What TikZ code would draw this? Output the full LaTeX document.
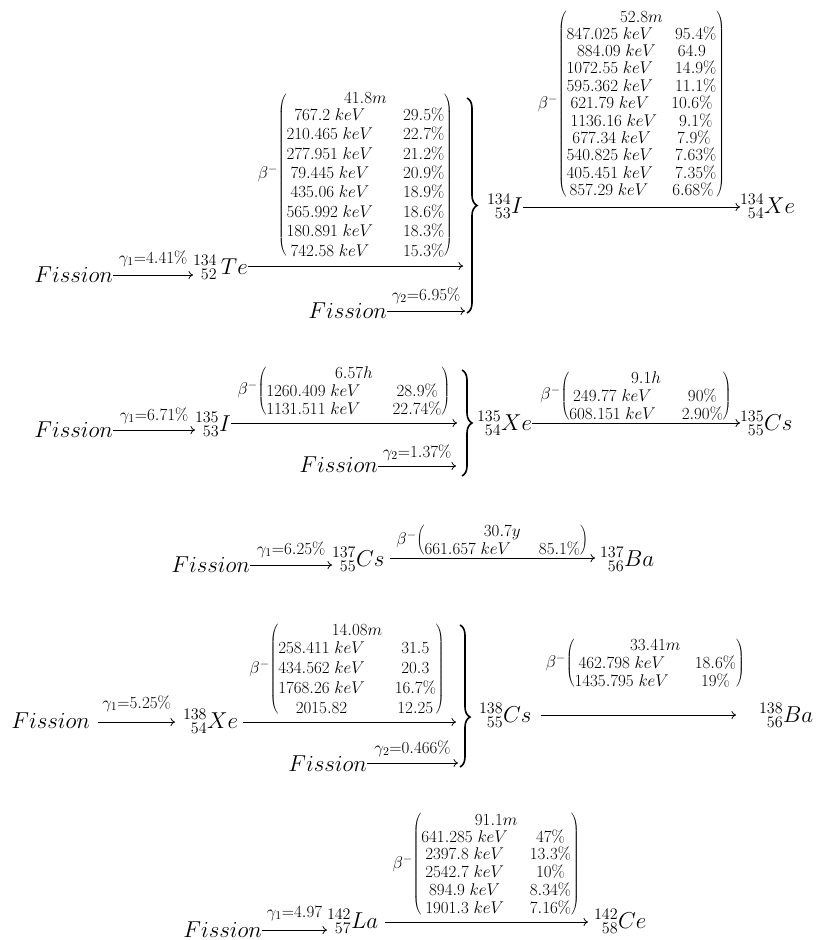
\RequirePackage{fix-cm}
\documentclass[tikz,border=0pt]{standalone}
\usetikzlibrary{decorations.pathreplacing,arrows.meta}
\delimiterfactor=960
\delimitershortfall=3pt
\newcommand\nucl[3]{${}^{#1}_{\hphantom{0}#2}#3$}
\newcommand\kv{\;keV}
\newcommand\hl[1]{\multispan2\hfil$#1$\hfil}
% two columns, both centred
\newcommand\mcc[3]{$\beta^{-}\!\left(\vcenter{\baselineskip=#1\lineskiplimit=-50pt\lineskip=0pt
  \halign{\hfil$##$\hfil&\hskip#2\hfil$##$\hfil\cr#3\crcr}}\right)$}
% two columns, second right-aligned
\newcommand\mcr[3]{$\beta^{-}\!\left(\vcenter{\baselineskip=#1\lineskiplimit=-50pt\lineskip=0pt
  \halign{\hfil$##$\hfil&\hskip#2\hfil$##$\cr#3\crcr}}\right)$}
% one centred column
\newcommand\mone[2]{$\beta^{-}\!\left(\vcenter{\baselineskip=#1\lineskiplimit=-50pt\lineskip=0pt
  \halign{\hfil$##$\hfil\cr#2\crcr}}\right)$}
\tikzset{
  big/.style={inner sep=0pt,outer sep=0pt,font=\fontsize{23}{27}\selectfont},
  lab/.style={inner sep=0pt,outer sep=0pt,font=\fontsize{17}{19.4}\selectfont},
  arr/.style={-{To[length=4.5pt,width=8pt]},line width=0.8pt},
  brc/.style={decorate,decoration={brace,amplitude=10pt,aspect=#1},line width=1.6pt},
  brc/.default=0.5,
}
\begin{document}
\begin{tikzpicture}[x=1pt,y=-1pt]
\useasboundingbox (0,0) rectangle (819,940);

% ---------- Row 1 : 134 ----------
\node[big,anchor=base east] (fis1) at (113,282) {$Fission$};
\node[big,anchor=base west] (te134) at (193,274) {\nucl{134}{52}{\,Te}};
\draw[arr] ([yshift=7pt]fis1.base east) -- ([yshift=7pt]fis1.base east -| te134.west)
  node[lab,midway,anchor=base,yshift=12pt] (g11) {$\gamma_1{=}4.41\%$};
\coordinate (e1) at (463,266);
\draw[arr] (e1 -| te134.east) -- (e1)
  node[lab,midway,anchor=south,yshift=9pt] (m1) {\mcr{19.4pt}{30pt}{
    \hl{41.8m}\cr\noalign{\vskip-2.4pt}
    767.2\kv & 29.5\%\cr
    210.465\kv & 22.7\%\cr
    277.951\kv & 21.2\%\cr
    79.445\kv & 20.9\%\cr
    435.06\kv & 18.9\%\cr
    565.992\kv & 18.6\%\cr
    180.891\kv & 18.3\%\cr
    742.58\kv & 15.3\%}};
\draw[brc] (467,98) -- (467,313);
\node[big,anchor=base east] (fis1b) at (387,318) {$Fission$};
\coordinate (f1) at (465,311);
\draw[arr] (f1 -| fis1b.east) -- (f1)
  node[lab,midway,anchor=base,yshift=11pt] (g12) {$\gamma_2{=}6.95\%$};
\node[big,anchor=base west] (i134) at (487,213) {\nucl{134}{53}{I}};
\node[big,anchor=base west] (xe134) at (740,213) {\nucl{134}{54}{Xe}};
\draw[arr] ([yshift=6pt]i134.base east) -- ([yshift=6pt]i134.base east -| xe134.west)
  node[lab,midway,anchor=south,yshift=10pt] (m2) {\mone{17.4pt}{
    52.8m\cr\noalign{\vskip-0.8pt}
    847.025\kv\hskip22pt 95.4\%\cr
    884.09\kv\hskip22pt 64.9\cr
    1072.55\kv\hskip22pt 14.9\%\cr
    595.362\kv\hskip22pt 11.1\%\cr
    621.79\kv\hskip22pt 10.6\%\cr
    1136.16\kv\hskip22pt 9.1\%\cr
    677.34\kv\hskip26pt 7.9\%\cr
    540.825\kv\hskip22pt 7.63\%\cr
    405.451\kv\hskip22pt 7.35\%\cr
    857.29\kv\hskip24pt 6.68\%}};

% ---------- Row 2 : 135 ----------
\node[big,anchor=base east] (fis2) at (113,437) {$Fission$};
\node[big,anchor=base west] (i135) at (195,431) {\nucl{135}{53}{I}};
\draw[arr] ([yshift=7pt]fis2.base east) -- ([yshift=7pt]fis2.base east -| i135.west)
  node[lab,midway,anchor=base,yshift=10pt] (g21) {$\gamma_1{=}6.71\%$};
\coordinate (e2) at (457,423);
\draw[arr] (e2 -| i135.east) -- (e2)
  node[lab,midway,anchor=south,yshift=8pt] (m3) {\mcc{18pt}{32pt}{
    \hl{6.57h}\cr
    1260.409\kv & 28.9\%\cr
    1131.511\kv & 22.74\%}};
\draw[brc] (462,370) -- (462,476);
\node[big,anchor=base east] (fis2b) at (378,472) {$Fission$};
\coordinate (f2) at (456,466);
\draw[arr] (f2 -| fis2b.east) -- (f2)
  node[lab,midway,anchor=base,yshift=9pt] (g22) {$\gamma_2{=}1.37\%$};
\node[big,anchor=base west] (xe135) at (477,430) {\nucl{135}{54}{Xe}};
\node[big,anchor=base west] (cs135) at (740,430) {\nucl{135}{55}{Cs}};
\draw[arr] ([yshift=7pt]xe135.base east) -- ([yshift=7pt]xe135.base east -| cs135.west)
  node[lab,midway,anchor=south,yshift=3pt] (m4) {\mcc{18pt}{26pt}{
    \hl{9.1h}\cr
    249.77\kv & 90\%\cr
    608.151\kv & 2.90\%}};

% ---------- Row 3 : 137 ----------
\node[big,anchor=base east] (fis3) at (250,572) {$Fission$};
\node[big,anchor=base west] (cs137) at (332,566) {\nucl{137}{55}{Cs}};
\node[big,anchor=base west] (ba137) at (600,566) {\nucl{137}{56}{Ba}};
\draw[arr] ([yshift=7pt]fis3.base east) -- ([yshift=7pt]fis3.base east -| cs137.west)
  node[lab,midway,anchor=base,yshift=11pt] (g31) {$\gamma_1{=}6.25\%$};
\draw[arr,shorten <=5pt,shorten >=5pt] ([yshift=8pt]cs137.base east) -- ([yshift=8pt]cs137.base east -| ba137.west)
  node[lab,midway,anchor=south,yshift=3pt] (m5) {\mcc{18pt}{28pt}{
    \hl{30.7y}\cr
    661.657\kv & 85.1\%}};

% ---------- Row 4 : 138 ----------
\node[big,anchor=base east] (fis4) at (90,728) {$Fission$};
\node[big,anchor=base west] (xe138) at (183,728) {\nucl{138}{54}{Xe}};
\draw[arr,shorten <=8pt,shorten >=8pt] ([yshift=6pt]fis4.base east) -- ([yshift=6pt]fis4.base east -| xe138.west)
  node[lab,midway,anchor=base,yshift=14pt] (g41) {$\gamma_1{=}5.25\%$};
\coordinate (e4) at (456,722);
\draw[arr,shorten <=5pt] (e4 -| xe138.east) -- (e4)
  node[lab,midway,anchor=south,yshift=8pt] (m6) {\mcc{19.7pt}{30pt}{
    \hl{14.08m}\cr\noalign{\vskip-1.7pt}
    258.411\kv & 31.5\cr
    434.562\kv & 20.3\cr
    1768.26\kv & 16.7\%\cr
    2015.82 & 12.25}};
\draw[brc=0.648] (460,625) -- (460,767);
\node[big,anchor=base east] (fis4b) at (367,771) {$Fission$};
\coordinate (f4) at (458,763);
\draw[arr] (f4 -| fis4b.east) -- (f4)
  node[lab,midway,anchor=base,yshift=10pt] (g42) {$\gamma_2{=}0.466\%$};
\node[big,anchor=base west] (cs138) at (479,722) {\nucl{138}{55}{Cs}};
\node[big,anchor=base west] (ba138) at (759,722) {\nucl{138}{56}{Ba}};
\draw[arr,shorten <=9pt,shorten >=23pt] ([yshift=7pt]cs138.base east) -- ([yshift=7pt]cs138.base east -| ba138.west)
  node[lab,midway,anchor=south,yshift=28pt] (m7) {\mcc{18pt}{26pt}{
    \hl{33.41m}\cr
    462.798\kv & 18.6\%\cr
    1435.795\kv & 19\%}};

% ---------- Row 5 : 142 ----------
\node[big,anchor=base east] (fis5) at (262,937) {$Fission$};
\node[big,anchor=base west] (la142) at (327,928) {\nucl{142}{57}{La}};
\node[big,anchor=base west] (ce142) at (594,928) {\nucl{142}{58}{Ce}};
\draw[arr] ([yshift=7pt]fis5.base east) -- ([yshift=7pt]fis5.base east -| la142.west)
  node[lab,midway,anchor=base,yshift=13pt] (g51) {$\gamma_1{=}4.97$};
\draw[arr,shorten <=7pt,shorten >=6pt] ([yshift=6pt]la142.base east) -- ([yshift=6pt]la142.base east -| ce142.west)
  node[lab,midway,anchor=south,yshift=7pt] (m8) {\mcc{17.75pt}{22pt}{
    \hl{91.1m}\cr\noalign{\vskip-0.75pt}
    641.285\kv & 47\%\cr
    2397.8\kv & 13.3\%\cr
    2542.7\kv & 10\%\cr
    894.9\kv & 8.34\%\cr
    1901.3\kv & 7.16\%}};
\end{tikzpicture}
\end{document}
